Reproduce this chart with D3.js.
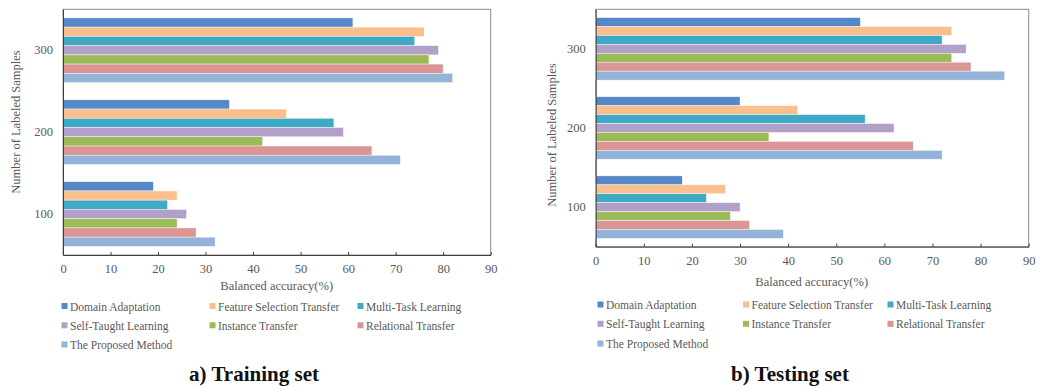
<!DOCTYPE html>
<html>
<head>
<meta charset="utf-8">
<script src="https://cdn.jsdelivr.net/npm/d3@7"></script>
<style>
  html, body { margin: 0; padding: 0; background: #fff; }
  svg { display: block; }
  text { font-family: "Liberation Serif", "Times New Roman", serif; }
</style>
</head>
<body>
<svg id="chart" width="1046" height="387"></svg>
<script>
// Number of labeled samples (top to bottom)
const sampleSizes = [300, 200, 100];

// Methods compared, in drawing order within each group
const methods = [
  "Domain Adaptation",
  "Feature Selection Transfer",
  "Multi-Task Learning",
  "Self-Taught Learning",
  "Instance Transfer",
  "Relational Transfer",
  "The Proposed Method"
];

const methodColors = ["#5588c8", "#f9c08e", "#3fa9c6", "#b2a0c8", "#9bbb59", "#da9594", "#93b3d9"];

// Balanced accuracy (%) per method, listed for 300, 200, 100 samples
const trainDomainAdaptation     = [61, 35, 19];
const trainFeatureSelection     = [76, 47, 24];
const trainMultiTask            = [74, 57, 22];
const trainSelfTaught           = [79, 59, 26];
const trainInstanceTransfer     = [77, 42, 24];
const trainRelationalTransfer   = [80, 65, 28];
const trainProposed             = [82, 71, 32];

const testDomainAdaptation      = [55, 30, 18];
const testFeatureSelection      = [74, 42, 27];
const testMultiTask             = [72, 56, 23];
const testSelfTaught            = [77, 62, 30];
const testInstanceTransfer      = [74, 36, 28];
const testRelationalTransfer    = [78, 66, 32];
const testProposed              = [85, 72, 39];

const xTicks = [0, 10, 20, 30, 40, 50, 60, 70, 80, 90];

const trainSeries = [trainDomainAdaptation, trainFeatureSelection, trainMultiTask,
  trainSelfTaught, trainInstanceTransfer, trainRelationalTransfer, trainProposed];
const testSeries = [testDomainAdaptation, testFeatureSelection, testMultiTask,
  testSelfTaught, testInstanceTransfer, testRelationalTransfer, testProposed];

const svg = d3.select("#chart");
svg.append("rect").attr("width", 1046).attr("height", 387).attr("fill", "#fff");

const textGrey = "#595959";

function drawPanel(opt) {
  const g = svg.append("g");
  const x = d3.scaleLinear().domain([0, 90]).range([opt.left, opt.right]);
  const y = d3.scaleBand().domain(sampleSizes).range([opt.top, opt.bottom])
    .paddingInner(0.21).paddingOuter(0.105);
  const yInner = d3.scaleBand().domain(d3.range(methods.length)).range([0, y.bandwidth()]);

  // plot frame
  g.append("rect")
    .attr("x", opt.left).attr("y", opt.top)
    .attr("width", opt.right - opt.left).attr("height", opt.bottom - opt.top)
    .attr("fill", "none").attr("stroke", "#8a8a8a").attr("stroke-width", 1);

  // bars
  const rows = [];
  sampleSizes.forEach((s, si) => {
    opt.series.forEach((vals, mi) => rows.push({ s, mi, v: vals[si] }));
  });
  g.append("g").selectAll("rect").data(rows).join("rect")
    .attr("x", x(0))
    .attr("y", d => y(d.s) + yInner(d.mi))
    .attr("width", d => x(d.v) - x(0))
    .attr("height", yInner.bandwidth())
    .attr("fill", d => methodColors[d.mi])
    .attr("stroke", "rgba(255,255,255,0.7)")
    .attr("stroke-width", 0.6);

  // x axis with short inward ticks
  const xAxis = g.append("g").attr("transform", `translate(0,${opt.bottom})`)
    .call(d3.axisBottom(x).tickValues(xTicks).tickSize(-3).tickPadding(9).tickSizeOuter(0));
  xAxis.select(".domain").attr("stroke", "#404040");
  xAxis.selectAll(".tick line").attr("stroke", "#404040");
  xAxis.selectAll("text").attr("fill", textGrey).attr("font-size", 12.5)
    .attr("font-family", "Liberation Serif, serif");

  // y axis: labels only
  const yAxis = g.append("g").attr("transform", `translate(${opt.left},0)`)
    .call(d3.axisLeft(y).tickSize(0).tickPadding(opt.yPad).tickSizeOuter(0));
  yAxis.select(".domain").attr("stroke", "#404040");
  yAxis.selectAll("text").attr("fill", textGrey).attr("font-size", 12.5)
    .attr("font-family", "Liberation Serif, serif");

  // axis titles
  g.append("text")
    .attr("x", opt.xTitleX).attr("y", opt.xTitleY)
    .attr("text-anchor", "middle").attr("fill", textGrey).attr("font-size", 12.5)
    .text("Balanced accuracy(%)");
  g.append("text")
    .attr("transform", `translate(${opt.yTitleX},${opt.yTitleY}) rotate(-90)`)
    .attr("text-anchor", "middle").attr("fill", textGrey).attr("font-size", 12.5)
    .text("Number of Labeled Samples");

  // legend, three columns
  const lg = g.append("g");
  methods.forEach((m, i) => {
    const col = i % 3, row = Math.floor(i / 3);
    const lx = opt.legendCols[col], ly = opt.legendRows[row];
    lg.append("rect").attr("x", lx).attr("y", ly - 3.5).attr("width", 6).attr("height", 6)
      .attr("fill", methodColors[i]);
    lg.append("text").attr("x", lx + 8.5).attr("y", ly + 4)
      .attr("fill", textGrey).attr("font-size", 11.5).text(m);
  });

  // caption
  g.append("text")
    .attr("x", opt.captionX).attr("y", 381)
    .attr("text-anchor", "middle").attr("fill", "#111")
    .attr("font-size", 21).attr("font-weight", "bold")
    .text(opt.caption);
}

drawPanel({
  series: trainSeries,
  left: 63, right: 490.7, top: 9.3, bottom: 255,
  yPad: 10,
  xTitleX: 276.7, xTitleY: 289.5,
  yTitleX: 20, yTitleY: 122,
  legendCols: [61.5, 209.5, 357.5],
  legendRows: [306.5, 325.8, 345],
  captionX: 254,
  caption: "a) Training set"
});

drawPanel({
  series: testSeries,
  left: 595.7, right: 1028.7, top: 9.3, bottom: 246.7,
  yPad: 10,
  xTitleX: 811.7, xTitleY: 286,
  yTitleX: 556, yTitleY: 135,
  legendCols: [597.5, 743, 887.5],
  legendRows: [305, 324.3, 344],
  captionX: 790,
  caption: "b) Testing set"
});
</script>
</body>
</html>
